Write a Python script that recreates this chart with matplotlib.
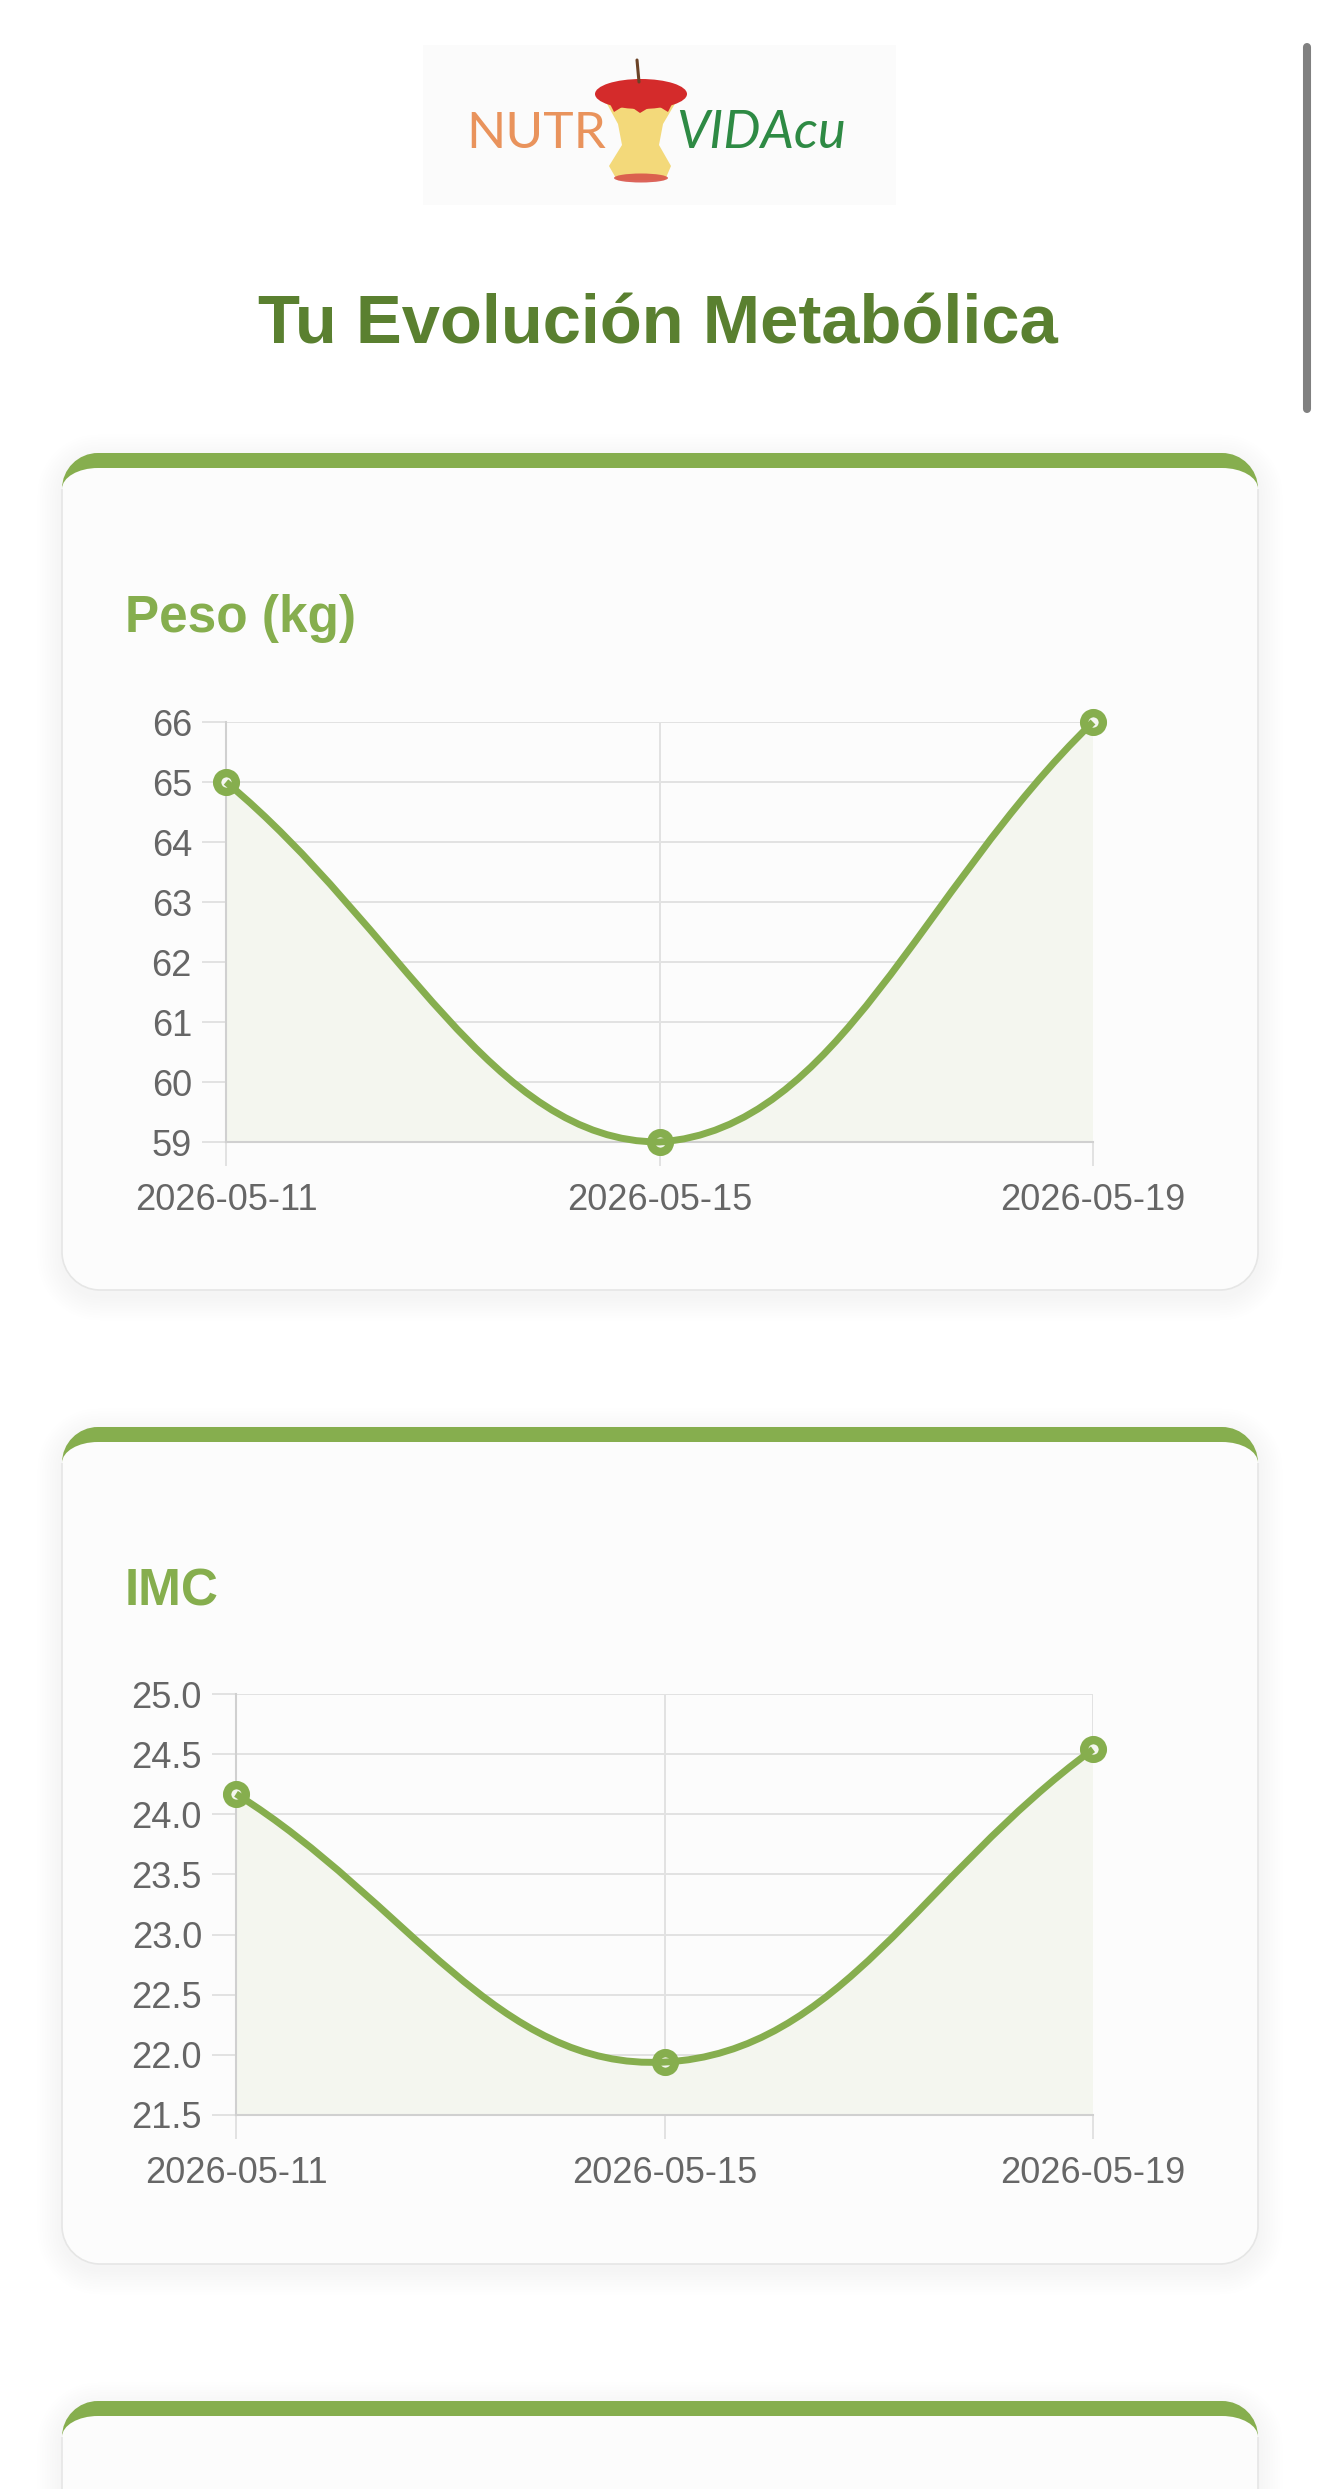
import numpy as np
import matplotlib
matplotlib.use('Agg')
import matplotlib.pyplot as plt
from matplotlib.path import Path
from matplotlib.patches import PathPatch, Rectangle, Ellipse, Polygon

plt.rcParams['font.family'] = ['Liberation Sans', 'DejaVu Sans']

# datos del gráfico
fechas = ['2026-05-11', '2026-05-15', '2026-05-19']
peso = [65, 59, 66]
imc = [24.17, 21.94, 24.54]
peso_ticks = [59, 60, 61, 62, 63, 64, 65, 66]
imc_ticks = [21.5, 22.0, 22.5, 23.0, 23.5, 24.0, 24.5, 25.0]

W, H = 1320, 2489
VERDE = '#86ae4e'
VERDE_OSC = '#5a8030'
RELLENO = '#f4f6ef'
GRID = '#e2e2e2'
K = 0.5523


def caja_redonda(x0, y0, x1, y1, rt, rb):
    # y crece hacia abajo; rt/rb = (rx, ry) esquinas sup/inf
    tx, ty = rt
    bx, by = rb
    verts = [
        (x0 + tx, y0), (x1 - tx, y0),
        (x1 - tx + K * tx, y0), (x1, y0 + ty - K * ty), (x1, y0 + ty),
        (x1, y1 - by),
        (x1, y1 - by + K * by), (x1 - bx + K * bx, y1), (x1 - bx, y1),
        (x0 + bx, y1),
        (x0 + bx - K * bx, y1), (x0, y1 - by + K * by), (x0, y1 - by),
        (x0, y0 + ty),
        (x0, y0 + ty - K * ty), (x0 + tx - K * tx, y0), (x0 + tx, y0),
        (x0 + tx, y0),
    ]
    codes = [Path.MOVETO, Path.LINETO] + [Path.CURVE4] * 3 + [Path.LINETO] + \
            [Path.CURVE4] * 3 + [Path.LINETO] + [Path.CURVE4] * 3 + [Path.LINETO] + \
            [Path.CURVE4] * 3 + [Path.CLOSEPOLY]
    return Path(verts, codes)


fig = plt.figure(figsize=(W / 100, H / 100), dpi=100)
fig.patch.set_facecolor('white')
bg = fig.add_axes([0, 0, 1, 1])
bg.set_xlim(0, W)
bg.set_ylim(H, 0)
bg.axis('off')


def tarjeta(top, bottom):
    x0, x1 = 62, 1258
    for i in range(10):
        d = 2 + i * 2.5
        p = caja_redonda(x0 - d, top - d + 6, x1 + d, bottom + d + 6, (36 + d, 36 + d), (38 + d, 38 + d))
        bg.add_patch(PathPatch(p, fc='black', ec='none', alpha=0.0025, zorder=0))
    bg.add_patch(PathPatch(caja_redonda(x0, top, x1, bottom, (36, 36), (38, 38)),
                           fc=VERDE, ec='none', zorder=1))
    bg.add_patch(PathPatch(caja_redonda(x0, top + 15, x1, bottom, (36, 21), (38, 38)),
                           fc='#fcfcfc', ec='none', zorder=2))
    r = 38
    verts = [(x0, top + 36), (x0, bottom - r),
             (x0, bottom - r + K * r), (x0 + r - K * r, bottom), (x0 + r, bottom),
             (x1 - r, bottom),
             (x1 - r + K * r, bottom), (x1, bottom - r + K * r), (x1, bottom - r),
             (x1, top + 36)]
    codes = [Path.MOVETO, Path.LINETO] + [Path.CURVE4] * 3 + [Path.LINETO] + \
            [Path.CURVE4] * 3 + [Path.LINETO]
    bg.add_patch(PathPatch(Path(verts, codes), fc='none', ec='#e6e6e6', lw=1.2, zorder=3))


# logo
bg.add_patch(Rectangle((423, 45), 473, 160, fc='#fbfbfb', ec='none'))
bg.text(466, 148, 'NUTR', fontsize=37, color='#e9935c', family=['Lato', 'DejaVu Sans'],
        va='baseline')
bg.text(676, 148, 'VIDAcu', fontsize=38, color='#2e8a44', family=['Lato', 'DejaVu Sans'],
        style='italic', va='baseline')
bg.add_patch(Polygon([(606, 102), (676, 102), (663, 124), (659, 145), (671, 166), (665, 180),
                      (617, 180), (609, 166), (622, 145), (618, 124)], fc='#f3d97a', ec='none', zorder=2))
bg.add_patch(Ellipse((641, 94), 92, 30, fc='#d42b2b', ec='none', zorder=3))
bg.add_patch(Polygon([(606, 96), (676, 96), (668, 112), (655, 104), (640, 113), (627, 104), (614, 112)],
                     fc='#d42b2b', ec='none', zorder=3))
bg.add_patch(Ellipse((641, 178), 54, 9, fc='#d9544a', ec='none', alpha=0.9, zorder=3))
bg.plot([637, 639], [60, 82], color='#6b4226', lw=2.2, solid_capstyle='round', zorder=4)

# titulo
bg.text(658, 344, 'Tu Evolución Metabólica', fontsize=49.5, fontweight='bold',
        color=VERDE_OSC, ha='center', va='baseline')

# scrollbar
bg.plot([1307, 1307], [47, 409], color='#808080', lw=5.8, solid_capstyle='round')

tarjeta(453, 1290)
tarjeta(1427, 2264)
tarjeta(2401, 3300)

bg.text(125, 632, 'Peso (kg)', fontsize=37, fontweight='bold', color=VERDE, va='baseline', zorder=5)
bg.text(125, 1606, 'IMC', fontsize=37, fontweight='bold', color=VERDE, va='baseline', zorder=5)


def curva(ax, xs, ys, tension=0.4):
    pts = ax.transData.transform(np.column_stack([xs, ys]))
    bb = ax.bbox
    n = len(pts)
    ctrl = []
    for i in range(n):
        prev = pts[i - 1] if i > 0 else pts[i]
        nxt = pts[i + 1] if i < n - 1 else pts[i]
        d01 = np.hypot(*(pts[i] - prev))
        d12 = np.hypot(*(nxt - pts[i]))
        tot = d01 + d12
        s01, s12 = d01 / tot, d12 / tot
        cp = pts[i] - tension * s01 * (nxt - prev)
        cn = pts[i] + tension * s12 * (nxt - prev)
        cp = np.clip(cp, [bb.x0, bb.y0], [bb.x1, bb.y1])
        cn = np.clip(cn, [bb.x0, bb.y0], [bb.x1, bb.y1])
        ctrl.append((cp, cn))
    verts = [pts[0]]
    codes = [Path.MOVETO]
    for i in range(n - 1):
        verts += [ctrl[i][1], ctrl[i + 1][0], pts[i + 1]]
        codes += [Path.CURVE4] * 3
    verts = ax.transData.inverted().transform(np.array(verts))
    return verts, codes


def grafico(left, top, bottom, valores, ticks, fmt):
    ax = fig.add_axes([left / W, 1 - bottom / H, (1093 - left) / W, (bottom - top) / H])
    ax.set_facecolor('none')
    xs = np.arange(len(fechas))
    ax.set_xlim(xs[0], xs[-1])
    ax.set_ylim(ticks[0], ticks[-1])
    ax.set_xticks(xs, fechas)
    ax.set_yticks(ticks, [fmt.format(t) for t in ticks])
    ax.grid(True, color=GRID, lw=1.4)
    ax.set_axisbelow(True)
    for s in ['top', 'right']:
        ax.spines[s].set_visible(False)
    for s in ['left', 'bottom']:
        ax.spines[s].set_color('#d0d0d0')
        ax.spines[s].set_linewidth(1.5)
    ax.tick_params(axis='both', length=17.5, width=1.4, color=GRID, labelsize=26, labelcolor='#666666')
    ax.tick_params(axis='y', pad=7)
    ax.tick_params(axis='x', pad=12)

    verts, codes = curva(ax, xs, valores)
    base = ticks[0]
    fverts = list(verts) + [(xs[-1], base), (xs[0], base), (xs[0], base)]
    fcodes = list(codes) + [Path.LINETO, Path.LINETO, Path.CLOSEPOLY]
    ax.add_patch(PathPatch(Path(fverts, fcodes), fc=RELLENO, ec='none', zorder=1))
    ax.plot(xs, valores, 'o', ms=13.5, mfc=RELLENO, mec=VERDE, mew=6, clip_on=False, zorder=3)
    linea = PathPatch(Path(verts, codes), fc='none', ec=VERDE, lw=5, zorder=4)
    linea.set_clip_on(False)
    ax.add_patch(linea)
    return ax


grafico(226, 722, 1142, peso, peso_ticks, '{:.0f}')
grafico(236, 1694, 2115, imc, imc_ticks, '{:.1f}')

fig.savefig('out.png', dpi=100)
